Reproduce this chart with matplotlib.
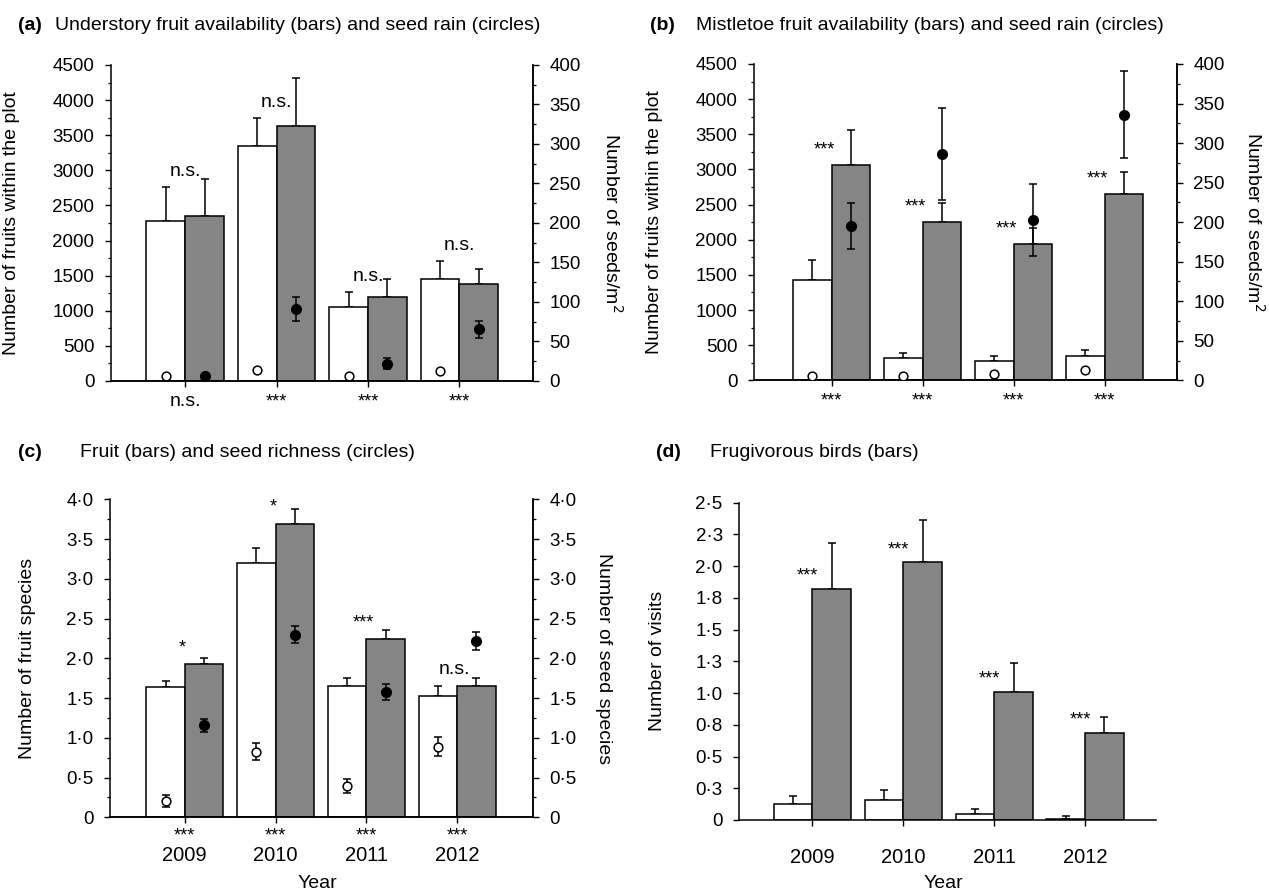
import math
import matplotlib
matplotlib.use("Agg")
import matplotlib.pyplot as plt
from matplotlib.ticker import MultipleLocator, FuncFormatter
import matplotlib.transforms as mtransforms

plt.rcParams['font.family'] = ['Liberation Sans', 'DejaVu Sans']

# ---------------- data ----------------
years = ['2009', '2010', '2011', '2012']

# (a) understory fruit availability (left axis) and seed rain (right axis)
a_fruit_open = [2276, 3352, 1052, 1452]
a_fruit_open_err = [486, 400, 215, 260]
a_fruit_closed = [2343, 3633, 1195, 1381]
a_fruit_closed_err = [538, 681, 262, 210]
a_seed_open = [6.8, 14.0, 6.8, 12.7]
a_seed_closed = [6.8, 91.4, 22.0, 65.2]
a_seed_closed_err = [1.0, 15.0, 7.0, 11.0]
a_sig_top = ['n.s.', 'n.s.', 'n.s.', 'n.s.']
a_sig_bottom = ['n.s.', '***', '***', '***']

# (b) mistletoe fruit availability and seed rain
b_fruit_open = [1426, 321, 274, 349]
b_fruit_open_err = [283, 71, 75, 85]
b_fruit_closed = [3060, 2248, 1936, 2644]
b_fruit_closed_err = [496, 273, 230, 321]
b_seed_open = [5.9, 5.9, 8.0, 12.6]
b_seed_closed = [195.0, 286.0, 202.7, 335.8]
b_seed_closed_err = [29, 58, 45, 55]
b_sig_top = ['***', '***', '***', '***']
b_sig_bottom = ['***', '***', '***', '***']

# (c) fruit and seed richness
c_fruit_open = [1.633, 3.196, 1.654, 1.529]
c_fruit_open_err = [0.08, 0.188, 0.10, 0.12]
c_fruit_closed = [1.923, 3.690, 2.237, 1.654]
c_fruit_closed_err = [0.083, 0.193, 0.125, 0.10]
c_seed_open = [0.205, 0.825, 0.39, 0.888]
c_seed_open_err = [0.07, 0.11, 0.09, 0.12]
c_seed_closed = [1.156, 2.299, 1.575, 2.22]
c_seed_closed_err = [0.08, 0.11, 0.10, 0.11]
c_sig_top = ['*', '*', '***', 'n.s.']
c_sig_bottom = ['***', '***', '***', '***']

# (d) frugivorous birds
d_visits_open = [0.126, 0.155, 0.047, 0.008]
d_visits_open_err = [0.066, 0.079, 0.042, 0.024]
d_visits_closed = [1.821, 2.032, 1.011, 0.689]
d_visits_closed_err = [0.358, 0.334, 0.226, 0.122]
d_sig_top = ['***', '***', '***', '***']

# ---------------- style ----------------
W, H = 1269, 892
GREY = '#858585'
BW = 0.425
TICK_FS = 13.5
YEAR_FS = 14.5
LAB_FS = 14
TITLE_FS = 14
STAR_FS = 13
NS_FS = 14

fig = plt.figure(figsize=(W / 100, H / 100), dpi=100)


def rect(l, r, t, b):
    return [l / W, 1 - b / H, (r - l) / W, (b - t) / H]


def style_axis(ax, right=True):
    ax.spines['top'].set_visible(False)
    ax.spines['right'].set_visible(right)
    for s in ax.spines.values():
        s.set_linewidth(1.1)
    ax.tick_params(axis='both', which='major', direction='out', length=4.5,
                   width=1.0, labelsize=TICK_FS, pad=7.5)
    ax.tick_params(axis='both', which='minor', direction='out', length=2.5,
                   width=0.9)
    ax.tick_params(axis='x', which='minor', bottom=False)


def draw_bars(ax, x, open_v, open_e, closed_v, closed_e):
    xo = [xi - BW / 2 for xi in x]
    xc = [xi + BW / 2 for xi in x]
    ax.bar(xo, open_v, width=BW, color='white', edgecolor='black',
           linewidth=1.1, zorder=2)
    ax.bar(xc, closed_v, width=BW, color=GREY, edgecolor='black',
           linewidth=1.1, zorder=2)
    ax.errorbar(xo, open_v, yerr=[[0] * len(x), open_e], fmt='none',
                ecolor='black', elinewidth=1.1, capsize=3, capthick=1.1,
                zorder=1)
    ax.errorbar(xc, closed_v, yerr=[[0] * len(x), closed_e], fmt='none',
                ecolor='black', elinewidth=1.1, capsize=3, capthick=1.1,
                zorder=1)
    return xo, xc


def draw_circles(ax, xo, xc, open_v, open_e, closed_v, closed_e):
    ax.errorbar(xo, open_v, yerr=open_e, fmt='o', ms=6.3, mfc='white',
                mec='black', mew=1.1, ecolor='black', elinewidth=1.1,
                capsize=3, capthick=1.1, zorder=5)
    ax.errorbar(xc, closed_v, yerr=closed_e, fmt='o', ms=7, mfc='black',
                mec='black', ecolor='black', elinewidth=1.1,
                capsize=3, capthick=1.1, zorder=5)


def sig_above(ax, x, refs, labels, dx=0.0, off=9):
    for xi, r, lab in zip(x, refs, labels):
        fs = STAR_FS if '*' in lab else NS_FS
        ax.annotate(lab, (xi + dx, r), xytext=(0, off),
                    textcoords='offset points', ha='center', va='center',
                    fontsize=fs, zorder=6)


def sig_below(ax, x, labels, y_pix_off):
    trans = mtransforms.blended_transform_factory(ax.transData, ax.transAxes)
    for xi, lab in zip(x, labels):
        fs = STAR_FS if '*' in lab else NS_FS
        ax.annotate(lab, (xi, 0), xycoords=trans, xytext=(0, y_pix_off),
                    textcoords='offset pixels', ha='center', va='center',
                    fontsize=fs)


def dot_fmt(v, pos):
    if abs(v) < 1e-9:
        return '0'
    r = math.floor(v * 10 + 0.5) / 10
    return f'{r:.1f}'.replace('.', '\u00b7')


x = list(range(len(years)))

# ---------------- panel (a) ----------------
axA = fig.add_axes(rect(111, 532.5, 65, 381))
style_axis(axA)
xo, xc = draw_bars(axA, x, a_fruit_open, a_fruit_open_err,
                   a_fruit_closed, a_fruit_closed_err)
axA.set_xlim(-0.813, 3.80)
axA.set_ylim(0, 4500)
axA.yaxis.set_major_locator(MultipleLocator(500))
axA.yaxis.set_minor_locator(MultipleLocator(250))
axA.set_xticks(x)
axA.set_xticklabels([])
axA.set_ylabel('Number of fruits within the plot', fontsize=LAB_FS)
axA.yaxis.set_label_coords(-0.216, 0.5)
axA2 = axA.twinx()
style_axis(axA2)
axA2.spines['left'].set_visible(False)
axA2.set_ylim(0, 400)
axA2.yaxis.set_major_locator(MultipleLocator(50))
axA2.yaxis.set_minor_locator(MultipleLocator(25))
draw_circles(axA2, xo, xc, a_seed_open, [0] * 4, a_seed_closed,
             a_seed_closed_err)
axA2.set_ylabel('Number of seeds/m$^2$', fontsize=LAB_FS, rotation=270,
                va='center')
axA2.yaxis.set_label_coords(1.189, 0.5)
a_refs = [o + e for o, e in zip(a_fruit_open, a_fruit_open_err)]
sig_above(axA, x, a_refs, a_sig_top, off=11)
sig_below(axA, x, a_sig_bottom, -21)

# ---------------- panel (b) ----------------
axB = fig.add_axes(rect(754, 1176.7, 64, 380.3))
style_axis(axB)
xo, xc = draw_bars(axB, x, b_fruit_open, b_fruit_open_err,
                   b_fruit_closed, b_fruit_closed_err)
axB.set_xlim(-0.854, 3.79)
axB.set_ylim(0, 4500)
axB.yaxis.set_major_locator(MultipleLocator(500))
axB.yaxis.set_minor_locator(MultipleLocator(250))
axB.set_xticks(x)
axB.set_xticklabels([])
axB.set_ylabel('Number of fruits within the plot', fontsize=LAB_FS)
axB.yaxis.set_label_coords(-0.215, 0.5)
axB2 = axB.twinx()
style_axis(axB2)
axB2.spines['left'].set_visible(False)
axB2.set_ylim(0, 400)
axB2.yaxis.set_major_locator(MultipleLocator(50))
axB2.yaxis.set_minor_locator(MultipleLocator(25))
draw_circles(axB2, xo, xc, b_seed_open, [0] * 4, b_seed_closed,
             b_seed_closed_err)
axB2.set_ylabel('Number of seeds/m$^2$', fontsize=LAB_FS, rotation=270,
                va='center')
axB2.yaxis.set_label_coords(1.183, 0.5)
sig_above(axB, x, b_fruit_closed, b_sig_top, dx=-0.08, off=11)
sig_below(axB, x, b_sig_bottom, -21)

# ---------------- panel (c) ----------------
axC = fig.add_axes(rect(110, 532.5, 499.3, 817.3))
style_axis(axC)
xo, xc = draw_bars(axC, x, c_fruit_open, c_fruit_open_err,
                   c_fruit_closed, c_fruit_closed_err)
axC.set_xlim(-0.824, 3.83)
axC.set_ylim(0, 4)
axC.yaxis.set_major_locator(MultipleLocator(0.5))
axC.yaxis.set_minor_locator(MultipleLocator(0.25))
axC.yaxis.set_major_formatter(FuncFormatter(dot_fmt))
axC.set_xticks(x)
axC.set_xticklabels(years, fontsize=YEAR_FS)
axC.tick_params(axis='x', pad=16)
axC.set_ylabel('Number of fruit species', fontsize=LAB_FS)
axC.yaxis.set_label_coords(-0.175, 0.5)
axC.set_xlabel('Year', fontsize=LAB_FS, va='center')
axC.xaxis.set_label_coords(0.49, (817.3 - 883) / 318.0)
axC2 = axC.twinx()
style_axis(axC2)
axC2.spines['left'].set_visible(False)
axC2.set_ylim(0, 4)
axC2.yaxis.set_major_locator(MultipleLocator(0.5))
axC2.yaxis.set_minor_locator(MultipleLocator(0.25))
axC2.yaxis.set_major_formatter(FuncFormatter(dot_fmt))
draw_circles(axC2, xo, xc, c_seed_open, c_seed_open_err, c_seed_closed,
             c_seed_closed_err)
axC2.set_ylabel('Number of seed species', fontsize=LAB_FS, rotation=270,
                va='center')
axC2.yaxis.set_label_coords(1.168, 0.5)
sig_above(axC, x, c_fruit_closed, c_sig_top, dx=-0.03, off=12)
sig_below(axC, x, c_sig_bottom, -19)

# ---------------- panel (d) ----------------
axD = fig.add_axes(rect(739.3, 1156, 502.7, 820))
style_axis(axD, right=False)
draw_bars(axD, x, d_visits_open, d_visits_open_err,
          d_visits_closed, d_visits_closed_err)
axD.set_xlim(-0.804, 3.78)
axD.set_ylim(0, 2.5)
axD.yaxis.set_major_locator(MultipleLocator(0.25))
axD.yaxis.set_major_formatter(FuncFormatter(dot_fmt))
axD.set_xticks(x)
axD.set_xticklabels(years, fontsize=YEAR_FS)
axD.tick_params(axis='x', pad=16)
axD.set_ylabel('Number of visits', fontsize=LAB_FS)
axD.yaxis.set_label_coords(-0.176, 0.5)
axD.set_xlabel('Year', fontsize=LAB_FS, va='center')
axD.xaxis.set_label_coords(0.49, (820 - 883) / 317.3)
sig_above(axD, x, d_visits_closed, d_sig_top, dx=-0.05, off=9)

# ---------------- titles ----------------
def title(xp_tag, xp_text, yp, tag, text):
    fig.text(xp_tag / W, 1 - yp / H, tag, fontsize=TITLE_FS,
             fontweight='bold', ha='left', va='center')
    fig.text(xp_text / W, 1 - yp / H, text, fontsize=TITLE_FS,
             ha='left', va='center')


title(18, 55, 25, '(a)', 'Understory fruit availability (bars) and seed rain (circles)')
title(650, 696, 25, '(b)', 'Mistletoe fruit availability (bars) and seed rain (circles)')
title(18, 80, 453, '(c)', 'Fruit (bars) and seed richness (circles)')
title(656, 710, 453, '(d)', 'Frugivorous birds (bars)')

fig.savefig('out.png', dpi=100)
